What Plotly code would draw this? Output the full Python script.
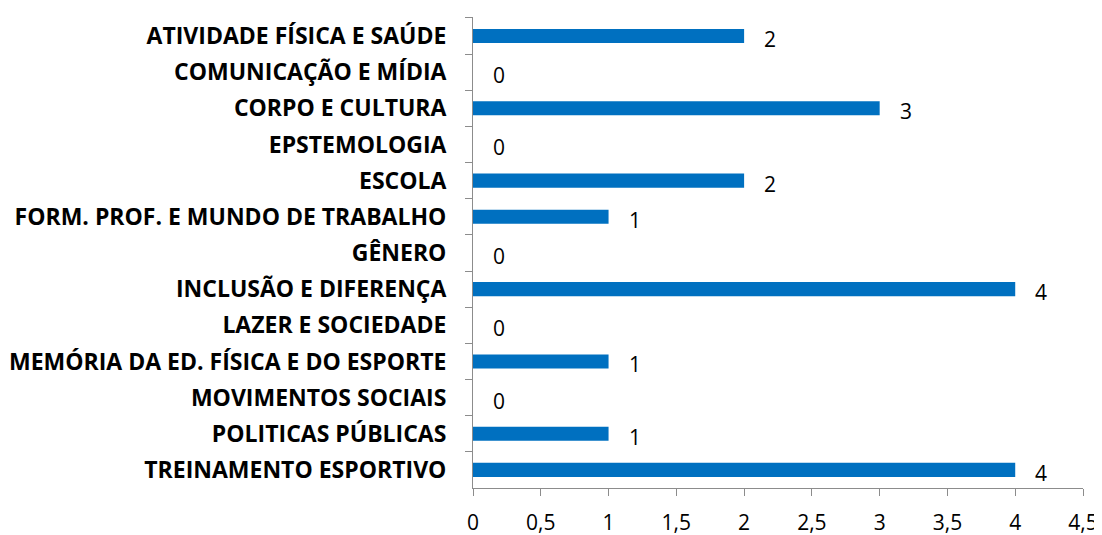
import plotly.graph_objects as go

categorias = [
    'ATIVIDADE FÍSICA E SAÚDE',
    'COMUNICAÇÃO E MÍDIA',
    'CORPO E CULTURA',
    'EPSTEMOLOGIA',
    'ESCOLA',
    'FORM. PROF. E MUNDO DE TRABALHO',
    'GÊNERO',
    'INCLUSÃO E DIFERENÇA',
    'LAZER E SOCIEDADE',
    'MEMÓRIA DA ED. FÍSICA E DO ESPORTE',
    'MOVIMENTOS SOCIAIS',
    'POLITICAS PÚBLICAS',
    'TREINAMENTO ESPORTIVO',
]
valores = [2, 0, 3, 0, 2, 1, 0, 4, 0, 1, 0, 1, 4]

x_ticks = [0, 0.5, 1, 1.5, 2, 2.5, 3, 3.5, 4, 4.5]
x_tick_labels = [str(v).replace('.', ',') if v % 1 else str(int(v)) for v in x_ticks]

fig = go.Figure()
fig.add_trace(go.Bar(
    x=valores, y=categorias, orientation='h',
    marker=dict(color='#0070C0', line=dict(width=0)),
    hoverinfo='x+y',
))

# rotulos de dados ao lado das barras
for cat, v in zip(categorias, valores):
    fig.add_annotation(
        x=v, y=cat, text=str(v), showarrow=False,
        xanchor='center', xshift=26, yshift=-3,
        font=dict(family='Open Sans', size=21, color='black'),
    )

# a pagina html tem margem de 8px no body, por isso 1094x527
fig.update_layout(
    width=1094, height=527,
    margin=dict(l=465, r=19, t=9, b=47),
    plot_bgcolor='white', paper_bgcolor='white',
    bargap=0.61,
    showlegend=False,
)
fig.update_xaxes(
    range=[0, 4.5], tickvals=x_ticks, ticktext=x_tick_labels,
    showgrid=False, zeroline=False, automargin=False,
    showline=True, linecolor='#8c8c8c', linewidth=1,
    ticks='outside', ticklen=7, tickcolor='#8c8c8c',
    ticklabelstandoff=9,
    tickfont=dict(family='Open Sans', size=21, color='black'),
)
fig.update_yaxes(
    autorange='reversed', type='category', automargin=False,
    showgrid=False, showline=True, linecolor='#8c8c8c', linewidth=1,
    ticks='outside', ticklen=7, tickcolor='#8c8c8c', tickson='boundaries',
    ticklabelstandoff=21,
    tickfont=dict(family='Open Sans', size=23, color='black', weight='bold'),
)

fig.write_html("out.html")
